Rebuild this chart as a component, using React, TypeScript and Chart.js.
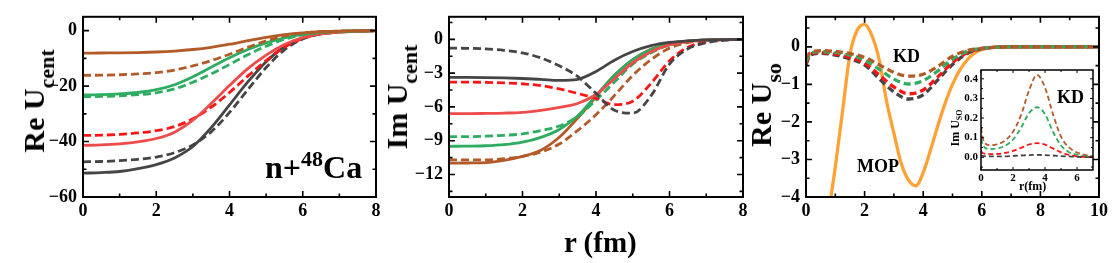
import React, { useEffect, useRef } from 'react';
import { Chart, registerables } from 'chart.js';
Chart.register(...registerables);

// ---------- data ----------
const R_CENT = [0, 0.5, 1, 1.5, 2, 2.5, 3, 3.5, 4, 4.5, 5, 5.5, 6, 6.5, 7, 7.5, 8];

// Panel 1: Re U_cent
const RE_BLACK_SOLID = [-51.4, -51.2, -50.8, -49.8, -48.3, -45.9, -41.8, -35, -26.8, -18.5, -11.2, -5.8, -2.6, -1.1, -0.45, -0.15, 0];
const RE_BLACK_DASH = [-47.3, -47.2, -46.9, -46.4, -45.6, -44, -41.2, -36.5, -29.5, -21.3, -13.3, -6.9, -3, -1.2, -0.45, -0.15, 0];
const RE_RED_SOLID = [-41.4, -41.2, -40.8, -40.1, -38.9, -36.6, -32.3, -26.3, -19.8, -13.7, -8.8, -5, -2.5, -1.15, -0.5, -0.2, 0];
const RE_RED_DASH = [-37.8, -37.7, -37.4, -36.9, -36.1, -34.6, -31.8, -27.6, -22.3, -16.4, -10.8, -6, -2.8, -1.2, -0.5, -0.2, 0];
const RE_GREEN_SOLID = [-23.2, -23.1, -22.8, -22.3, -21.3, -19.5, -16.6, -13.2, -9.8, -6.8, -4.4, -2.6, -1.3, -0.6, -0.25, -0.1, 0];
const RE_GREEN_DASH = [-23.8, -23.7, -23.5, -23.1, -22.4, -21, -18.6, -15.6, -12.2, -8.7, -5.6, -3.1, -1.5, -0.65, -0.25, -0.1, 0];
const RE_BROWN_SOLID = [-8.1, -8.05, -8, -7.9, -7.7, -7.35, -6.8, -6, -4.9, -3.6, -2.4, -1.45, -0.8, -0.4, -0.2, -0.08, 0];
const RE_BROWN_DASH = [-16.1, -16.05, -15.9, -15.6, -15.1, -14.2, -12.7, -10.8, -8.5, -6, -3.7, -1.9, -0.85, -0.35, -0.13, -0.05, 0];

// Panel 2: Im U_cent
const IM_BLACK_SOLID = [-3.37, -3.38, -3.4, -3.43, -3.48, -3.56, -3.65, -3.55, -2.85, -1.85, -1.08, -0.56, -0.28, -0.13, -0.05, -0.02, 0];
const IM_BLACK_DASH = [-0.78, -0.8, -0.85, -0.98, -1.2, -1.65, -2.35, -3.3, -4.8, -6.3, -6.55, -5, -2.2, -0.85, -0.3, -0.08, 0];
const IM_RED_SOLID = [-6.6, -6.6, -6.58, -6.55, -6.48, -6.3, -6.05, -5.7, -4.9, -3.5, -2.1, -1.1, -0.5, -0.2, -0.08, -0.03, 0];
const IM_RED_DASH = [-3.8, -3.8, -3.82, -3.87, -3.95, -4.1, -4.4, -4.8, -5.25, -5.8, -5.5, -3.9, -1.9, -0.7, -0.22, -0.06, 0];
const IM_GREEN_SOLID = [-9.5, -9.48, -9.45, -9.35, -9.13, -8.7, -8, -6.8, -5, -3.2, -1.8, -0.9, -0.4, -0.17, -0.07, -0.02, 0];
const IM_GREEN_DASH = [-8.65, -8.64, -8.6, -8.52, -8.4, -8.1, -7.7, -6.85, -5.4, -3.8, -2.2, -1.2, -0.5, -0.2, -0.07, -0.02, 0];
const IM_BROWN_SOLID = [-11, -10.98, -10.95, -10.75, -10.4, -9.85, -8.7, -7, -5.1, -3.2, -1.8, -0.86, -0.35, -0.15, -0.05, -0.02, 0];
const IM_BROWN_DASH = [-10.7, -10.7, -10.7, -10.6, -10.4, -10, -9.3, -8.1, -6.7, -5, -3.2, -1.8, -0.78, -0.29, -0.1, -0.03, 0];

// Panel 3: Re U_so
const R_MOP = [0.5, 0.75, 1, 1.25, 1.5, 1.75, 2, 2.25, 2.5, 2.75, 3, 3.25, 3.5, 3.75, 4, 4.25, 4.5, 4.75, 5, 5.25, 5.5, 5.75, 6, 6.5, 7, 8, 10];
const RE_SO_MOP = [-7.5, -4.7, -3.2, -1.7, -0.2, 0.45, 0.6, 0.3, -0.35, -1.45, -2.3, -3.1, -3.55, -3.7, -3.35, -2.75, -2.1, -1.5, -1.0, -0.62, -0.35, -0.17, -0.07, -0.01, 0, 0, 0];
const R_SO = [0, 0.15, 0.5, 1, 1.5, 2, 2.5, 3, 3.5, 4, 4.5, 5, 5.5, 6, 6.5, 7, 8, 10];
const RE_SO_BROWN = [-0.3, -0.15, -0.1, -0.12, -0.18, -0.28, -0.48, -0.68, -0.78, -0.73, -0.52, -0.25, -0.1, -0.04, -0.01, 0, 0, 0];
const RE_SO_GREEN = [-0.38, -0.18, -0.13, -0.15, -0.22, -0.35, -0.6, -0.86, -0.99, -0.9, -0.64, -0.33, -0.12, -0.04, -0.01, 0, 0, 0];
const RE_SO_RED = [-0.43, -0.2, -0.15, -0.19, -0.28, -0.43, -0.75, -1.07, -1.25, -1.15, -0.8, -0.42, -0.16, -0.05, -0.01, 0, 0, 0];
const RE_SO_BLACK = [-0.47, -0.22, -0.17, -0.22, -0.32, -0.48, -0.85, -1.2, -1.39, -1.28, -0.88, -0.47, -0.18, -0.05, -0.01, 0, 0, 0];

// Inset: Im U_so
const R_IM_SO = [0, 0.1, 0.5, 1, 1.5, 2, 2.5, 3, 3.5, 4, 4.5, 5, 5.5, 6, 6.5, 7];
const IM_SO_BROWN = [0.15, 0.1, 0.062, 0.066, 0.085, 0.13, 0.215, 0.34, 0.42, 0.355, 0.22, 0.105, 0.05, 0.024, 0.012, 0.005];
const IM_SO_GREEN = [0.095, 0.065, 0.042, 0.045, 0.058, 0.09, 0.15, 0.225, 0.255, 0.22, 0.13, 0.06, 0.026, 0.013, 0.007, 0.004];
const IM_SO_RED = [0.03, 0.022, 0.016, 0.017, 0.022, 0.032, 0.048, 0.065, 0.072, 0.064, 0.045, 0.025, 0.012, 0.005, 0.002, 0.001];
const IM_SO_BLACK = [0.01, 0.007, 0.004, 0.004, 0.005, 0.007, 0.009, 0.011, 0.012, 0.011, 0.009, 0.006, 0.004, 0.002, 0.001, 0];

// ticks
const X_TICKS_CENT = [0, 2, 4, 6, 8];
const Y_TICKS_RE = [-60, -40, -20, 0];
const Y_TICKS_IM = [-12, -9, -6, -3, 0];
const X_TICKS_SO = [0, 2, 4, 6, 8, 10];
const Y_TICKS_SO = [-4, -3, -2, -1, 0];
const X_TICKS_INSET = [0, 2, 4, 6];
const Y_TICKS_INSET = [0, 0.1, 0.2, 0.3, 0.4];

// ---------- styling ----------
const SERIF = '"Liberation Serif", "Times New Roman", serif';
const BLACK = '#454545';
const RED_S = '#EE4B4B';
const RED_D = '#FF1414';
const GREEN = '#2EAD62';
const BROWN = '#B25B28';
const ORANGE = '#FFA235';

const minus = (v: number) => (v < 0 ? '\u2212' + Math.abs(v) : String(v));

const framePlugin = {
  id: 'frame',
  beforeDatasetsDraw(chart: any, _a: any, opts: any) {
    if (!opts || !opts.bg) return;
    const { ctx, chartArea: a } = chart;
    ctx.save();
    ctx.fillStyle = opts.bg;
    ctx.fillRect(a.left, a.top, a.right - a.left, a.bottom - a.top);
    ctx.restore();
  },
  afterDraw(chart: any, _a: any, opts: any) {
    const { ctx, chartArea: a, scales } = chart;
    const x = scales.x;
    const y = scales.y;
    const lw = opts.lw || 2;
    const major = opts.major || 5;
    const minor = opts.minor || 3;
    const minorVals = (sc: any) => {
      const v = sc.ticks.map((t: any) => t.value);
      const step = v[1] - v[0];
      const out: number[] = [];
      v.forEach((t: number) => {
        [t - step / 2, t + step / 2].forEach((m) => {
          if (m > sc.min && m < sc.max && !out.some((o) => Math.abs(o - m) < 1e-9)) out.push(m);
        });
      });
      return out;
    };
    ctx.save();
    ctx.strokeStyle = '#000';
    ctx.beginPath();
    const drawX = (vals: number[], len: number) => {
      vals.forEach((v) => {
        const p = x.getPixelForValue(v);
        ctx.moveTo(p, a.bottom);
        ctx.lineTo(p, a.bottom - len);
        ctx.moveTo(p, a.top);
        ctx.lineTo(p, a.top + len);
      });
    };
    const drawY = (vals: number[], len: number) => {
      vals.forEach((v) => {
        const p = y.getPixelForValue(v);
        ctx.moveTo(a.left, p);
        ctx.lineTo(a.left + len, p);
        ctx.moveTo(a.right, p);
        ctx.lineTo(a.right - len, p);
      });
    };
    ctx.lineWidth = opts.tw || 1.5;
    drawX(x.ticks.map((t: any) => t.value), major);
    drawX(minorVals(x), minor);
    drawY(y.ticks.map((t: any) => t.value), major);
    drawY(minorVals(y), minor);
    ctx.stroke();
    ctx.lineWidth = lw;
    ctx.strokeRect(a.left, a.top, a.right - a.left, a.bottom - a.top);
    ctx.restore();
  },
};

type Series = { xs: number[]; ys: number[]; color: string; dash?: boolean };

function buildConfig(p: {
  series: Series[];
  width: number;
  dash: number[];
  xMin: number; xMax: number; xTicks: number[];
  yMin: number; yMax: number; yTicks: number[];
  yW: number; xH: number; padR: number; padT: number;
  font: number; padX: number; padY: number;
  fmtY: (v: number) => string;
  lw: number; tw: number; major: number; minor: number; bg?: string;
}) {
  const datasets = p.series.map((s) => ({
    data: s.xs.map((x, i) => ({ x, y: s.ys[i] })),
    borderColor: s.color,
    borderWidth: p.width,
    borderDash: s.dash ? p.dash : [],
    pointRadius: 0,
    fill: false,
    cubicInterpolationMode: 'monotone',
    clip: 0,
  }));
  const tickFont = { family: SERIF, size: p.font, weight: 'bold' as const };
  return {
    type: 'line' as const,
    data: { datasets },
    plugins: [framePlugin],
    options: {
      animation: false,
      responsive: false,
      devicePixelRatio: 1,
      layout: { padding: { left: 0, right: p.padR, top: p.padT, bottom: 0 } },
      plugins: { legend: { display: false }, tooltip: { enabled: false }, frame: { lw: p.lw, tw: p.tw, major: p.major, minor: p.minor, bg: p.bg } },
      scales: {
        x: {
          type: 'linear', min: p.xMin, max: p.xMax,
          afterBuildTicks: (s: any) => { s.ticks = p.xTicks.map((v) => ({ value: v })); },
          afterFit: (s: any) => { s.height = p.xH; },
          grid: { display: false, drawTicks: false },
          border: { display: false },
          ticks: { padding: p.padX, font: tickFont, color: '#000', autoSkip: false, maxRotation: 0, callback: (v: any) => String(v) },
        },
        y: {
          type: 'linear', min: p.yMin, max: p.yMax,
          afterBuildTicks: (s: any) => { s.ticks = p.yTicks.map((v) => ({ value: v })); },
          afterFit: (s: any) => { s.width = p.yW; },
          grid: { display: false, drawTicks: false },
          border: { display: false },
          ticks: { padding: p.padY, font: tickFont, color: '#000', autoSkip: false, callback: (v: any) => p.fmtY(v) },
        },
      },
    },
  };
}

function ChartBox({ left, top, width, height, make }: { left: number; top: number; width: number; height: number; make: () => any }) {
  const ref = useRef<HTMLCanvasElement>(null);
  useEffect(() => {
    const ch = new Chart(ref.current as HTMLCanvasElement, make());
    return () => ch.destroy();
  }, []);
  return <canvas ref={ref} width={width} height={height} style={{ position: 'absolute', left, top, width, height }} />;
}

const MAIN = { width: 2.8, dash: [8, 4], font: 18, padX: 4, padY: 6, lw: 2, tw: 1.6, major: 6, minor: 3.5, padT: 12, xH: 33 };

const panel1 = () =>
  buildConfig({
    ...MAIN,
    series: [
      { xs: R_CENT, ys: RE_BROWN_SOLID, color: BROWN },
      { xs: R_CENT, ys: RE_BROWN_DASH, color: BROWN, dash: true },
      { xs: R_CENT, ys: RE_GREEN_SOLID, color: GREEN },
      { xs: R_CENT, ys: RE_GREEN_DASH, color: GREEN, dash: true },
      { xs: R_CENT, ys: RE_RED_SOLID, color: RED_S },
      { xs: R_CENT, ys: RE_RED_DASH, color: RED_D, dash: true },
      { xs: R_CENT, ys: RE_BLACK_SOLID, color: BLACK },
      { xs: R_CENT, ys: RE_BLACK_DASH, color: BLACK, dash: true },
    ],
    xMin: 0, xMax: 8, xTicks: X_TICKS_CENT,
    yMin: -60, yMax: 5, yTicks: Y_TICKS_RE,
    yW: 83, padR: 24, fmtY: minus,
  });

const panel2 = () =>
  buildConfig({
    ...MAIN,
    series: [
      { xs: R_CENT, ys: IM_BLACK_SOLID, color: BLACK },
      { xs: R_CENT, ys: IM_BLACK_DASH, color: BLACK, dash: true },
      { xs: R_CENT, ys: IM_RED_SOLID, color: RED_S },
      { xs: R_CENT, ys: IM_RED_DASH, color: RED_D, dash: true },
      { xs: R_CENT, ys: IM_GREEN_SOLID, color: GREEN },
      { xs: R_CENT, ys: IM_GREEN_DASH, color: GREEN, dash: true },
      { xs: R_CENT, ys: IM_BROWN_SOLID, color: BROWN },
      { xs: R_CENT, ys: IM_BROWN_DASH, color: BROWN, dash: true },
    ],
    xMin: 0, xMax: 8, xTicks: X_TICKS_CENT,
    yMin: -14, yMax: 2, yTicks: Y_TICKS_IM,
    yW: 69, padR: 17, fmtY: minus,
  });

const panel3 = () =>
  buildConfig({
    ...MAIN,
    width: 3.3,
    dash: [7, 4],
    series: [
      { xs: R_SO, ys: RE_SO_BROWN, color: BROWN, dash: true },
      { xs: R_SO, ys: RE_SO_GREEN, color: GREEN, dash: true },
      { xs: R_SO, ys: RE_SO_RED, color: RED_D, dash: true },
      { xs: R_SO, ys: RE_SO_BLACK, color: BLACK, dash: true },
      { xs: R_MOP, ys: RE_SO_MOP, color: ORANGE },
    ],
    xMin: 0, xMax: 10, xTicks: X_TICKS_SO,
    yMin: -4, yMax: 0.8, yTicks: Y_TICKS_SO,
    yW: 46, padR: 11, fmtY: minus,
  });

const inset = () =>
  buildConfig({
    width: 1.8, dash: [5, 3], font: 11, padX: 2, padY: 3, lw: 1.5, tw: 1, major: 3, minor: 2, padT: 10, xH: 30, bg: '#fff',
    series: [
      { xs: R_IM_SO, ys: IM_SO_BLACK, color: BLACK, dash: true },
      { xs: R_IM_SO, ys: IM_SO_RED, color: RED_D, dash: true },
      { xs: R_IM_SO, ys: IM_SO_GREEN, color: GREEN, dash: true },
      { xs: R_IM_SO, ys: IM_SO_BROWN, color: BROWN, dash: true },
    ],
    xMin: 0, xMax: 7, xTicks: X_TICKS_INSET,
    yMin: -0.065, yMax: 0.445, yTicks: Y_TICKS_INSET,
    yW: 41, padR: 7, fmtY: (v: number) => v.toFixed(1),
  });

function Rot({ cx, cy, size, main, sub, subSize, subShift }: { cx: number; cy: number; size: number; main: string; sub: string; subSize: number; subShift: number }) {
  return (
    <div
      style={{
        position: 'absolute', left: cx, top: cy, transform: 'translate(-50%,-50%) rotate(-90deg)',
        font: `bold ${size}px ${SERIF}`, lineHeight: 1, whiteSpace: 'nowrap', color: '#000',
      }}
    >
      {main}
      <span style={{ fontSize: subSize, position: 'relative', top: subShift }}>{sub}</span>
    </div>
  );
}

function Txt({ left, top, size, children }: { left: number; top: number; size: number; children: any }) {
  return (
    <div style={{ position: 'absolute', left, top, font: `bold ${size}px ${SERIF}`, lineHeight: 1, whiteSpace: 'nowrap', color: '#000' }}>
      {children}
    </div>
  );
}

export default function App() {
  return (
    <div style={{ position: 'absolute', left: 0, top: 0, width: 1112, height: 263, background: '#fff', overflow: 'hidden' }}>
      <ChartBox left={0} top={0} width={400} height={230} make={panel1} />
      <ChartBox left={380} top={0} width={380} height={230} make={panel2} />
      <ChartBox left={760} top={0} width={352} height={230} make={panel3} />
      <ChartBox left={940} top={60} width={160} height={140} make={inset} />

      <Rot cx={34} cy={101} size={30} main="Re U" sub="cent" subSize={22} subShift={10} />
      <Rot cx={397} cy={97} size={30} main="Im U" sub="cent" subSize={22} subShift={10} />
      <Rot cx={761} cy={105} size={30} main="Re U" sub="so" subSize={22} subShift={10} />
      <Rot cx={955} cy={128} size={12} main="Im U" sub="SO" subSize={8} subShift={3} />

      <Txt left={265} top={151} size={32}>
        n+<span style={{ fontSize: 22, position: 'relative', top: -12 }}>48</span>Ca
      </Txt>
      <Txt left={893} top={47} size={18}>KD</Txt>
      <Txt left={857} top={157} size={18}>MOP</Txt>
      <Txt left={1057} top={88} size={18}>KD</Txt>
      <Txt left={1019} top={180} size={12}>r(fm)</Txt>
      <Txt left={564} top={228} size={29}>r (fm)</Txt>
    </div>
  );
}
